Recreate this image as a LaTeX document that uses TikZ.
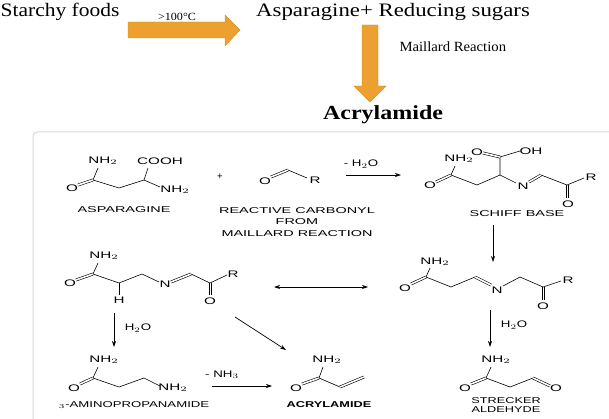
\documentclass[tikz,border=0pt]{standalone}
\usepackage{fontspec}
\setmainfont{Liberation Serif}
\setsansfont{Liberation Sans}
\usetikzlibrary{arrows.meta}
\definecolor{maillard}{RGB}{236,160,48}
\newcommand{\wide}[2][1.6]{\scalebox{#1}[1]{#2}}
\tikzset{
  lbl/.style={font=\sffamily\fontsize{8.5}{9}\selectfont, inner sep=0pt},
  atom/.style={font=\sffamily\fontsize{9.5}{9.5}\selectfont, inner sep=0.5pt},
  bond/.style={line width=0.6pt},
  dbl/.style={line width=0.6pt, double distance=1.6pt},
  rxn/.style={-{Stealth[length=6pt,width=4pt]}, line width=0.7pt},
  big/.style={font=\fontsize{19}{19}\selectfont, inner sep=0pt},
  fat/.style={fill=maillard, draw=maillard!90!black, line width=0.4pt}
}
\begin{document}
\begin{tikzpicture}[x=1pt,y=-1pt]
  \useasboundingbox (0,0) rectangle (609,419);

  % top scheme
  \node[big, anchor=west] (starch) at (0.5,12) {\wide[1.13]{Starchy foods}};
  \node[font=\fontsize{11}{11}\selectfont] (temp) at (177,17) {\wide[1.1]{>100°C}};
  \draw[fat] (128,22) -- (225,22) -- (225,15) -- (240,30) -- (225,46) -- (225,38) -- (128,38) -- cycle;
  \node[big, anchor=west] (sugars) at (256,12) {\wide[1.2]{Asparagine+ Reducing sugars}};
  \draw[fat] (362,25) -- (378,25) -- (378,86) -- (386,86) -- (370,102) -- (354,86) -- (362,86) -- cycle;
  \node[font=\fontsize{14}{14}\selectfont, anchor=west] (maill) at (396,47) {\wide[1.05]{Maillard Reaction}};
  \node[font=\bfseries\fontsize{20}{20}\selectfont, inner sep=0pt] (acryl) at (383,115) {\wide[1.2]{Acrylamide}};

  % reaction box
  \draw[black!15, line width=1pt, rounded corners=4pt] (33,425) -- (33,132) -- (615,132);

  % asparagine
  \draw[dbl] (78,185) -- (93,180);
  \draw[bond] (93,180) -- (119,188) -- (144,180) -- (148,168);
  \draw[bond] (93,180) -- (98,168);
  \draw[bond] (144,180) -- (160,187);
  \node[atom] (o1) at (72,188) {\wide{O}};
  \node[atom] (n1) at (103,161) {\wide{NH$_2$}};
  \node[atom] (cooh) at (160,161) {\wide{COOH}};
  \node[atom] (n2) at (175,190) {\wide{NH$_2$}};
  \node[lbl] (asn) at (124,210) {\wide[1.7]{ASPARAGINE}};
  \node[atom] (plus) at (220,177) {+};

  % reactive carbonyl
  \draw[dbl] (271,177) -- (288,170);
  \draw[bond] (288,170) -- (307,178);
  \node[atom] (o2) at (265,181) {\wide{O}};
  \node[atom] (r1) at (315,180) {\wide{R}};
  \node[lbl] (carb1) at (297,211) {\wide[1.7]{REACTIVE CARBONYL}};
  \node[lbl] (carb2) at (297,222) {\wide[1.7]{FROM}};
  \node[lbl] (carb3) at (297,234) {\wide[1.7]{MAILLARD REACTION}};
  \node[atom] (mh2o) at (361,164) {\wide[1.4]{- H$_2$O}};
  \draw[rxn] (346,175) -- (401,175);

  % schiff base
  \draw[dbl] (436,182) -- (451,175);
  \draw[bond] (451,175) -- (455,166);
  \draw[bond] (451,175) -- (477,185) -- (500,175) -- (500,157);
  \draw[dbl] (500,157) -- (483,153);
  \draw[bond] (500,157) -- (520,151);
  \draw[bond] (500,175) -- (516,183);
  \draw[dbl] (529,182) -- (541,175);
  \draw[bond] (541,175) -- (567,185) -- (584,178);
  \draw[bond] (566,185) -- (566,198) (568.5,185) -- (568.5,198);
  \node[atom] (o3) at (430,185) {\wide{O}};
  \node[atom] (n3) at (459,159) {\wide{NH$_2$}};
  \node[atom] (o4) at (477,152) {\wide{O}};
  \node[atom] (oh) at (531,151) {\wide{OH}};
  \node[atom] (n4) at (523,186) {\wide{N}};
  \node[atom] (r2) at (591,177) {\wide{R}};
  \node[atom] (o5) at (568,204) {\wide{O}};
  \node[lbl] (schiff) at (517,214) {\wide[1.7]{SCHIFF BASE}};
  \draw[rxn] (493,225) -- (493,262);

  % decarboxylated imine (right)
  \draw[dbl] (411,284) -- (426,277);
  \draw[bond] (426,277) -- (430,268);
  \draw[bond] (426,277) -- (451,287) -- (475,277);
  \draw[dbl] (475,277) -- (491,285);
  \draw[bond] (503,286) -- (520,277) -- (543,287) -- (561,281);
  \draw[bond] (542,287) -- (542,300) (544.5,287) -- (544.5,300);
  \node[atom] (o6) at (405,288) {\wide{O}};
  \node[atom] (n5) at (435,262) {\wide{NH$_2$}};
  \node[atom] (n6) at (497,290) {\wide{N}};
  \node[atom] (r3) at (568,280) {\wide{R}};
  \node[atom] (o7) at (543,306) {\wide{O}};

  \draw[{Stealth[length=6pt,width=4pt]}-{Stealth[length=6pt,width=4pt]}, line width=0.7pt] (274,287) -- (368,287);

  % decarboxylated imine (left)
  \draw[dbl] (76,280) -- (93,274);
  \draw[bond] (93,274) -- (98,263);
  \draw[bond] (93,274) -- (119,283) -- (142,274) -- (159,282);
  \draw[bond] (119,283) -- (119,295);
  \draw[dbl] (171,282) -- (191,274);
  \draw[bond] (191,274) -- (210,283) -- (227,275);
  \draw[bond] (209,283) -- (209,295) (211.5,283) -- (211.5,295);
  \node[atom] (o8) at (70,283) {\wide{O}};
  \node[atom] (n7) at (104,256) {\wide{NH$_2$}};
  \node[atom] (h1) at (119,300) {\wide{H}};
  \node[atom] (n8) at (165,284) {\wide{N}};
  \node[atom] (r4) at (233,274) {\wide{R}};
  \node[atom] (o9) at (210,301) {\wide{O}};

  \draw[rxn] (114,313) -- (114,347);
  \node[atom] (h2o1) at (138,328) {\wide[1.4]{H$_2$O}};
  \draw[rxn] (235,317) -- (286,350);
  \draw[rxn] (490,310) -- (490,347);
  \node[atom] (h2o2) at (514,325) {\wide[1.4]{H$_2$O}};

  % 3-aminopropanamide
  \draw[dbl] (80,384) -- (93,378);
  \draw[bond] (93,378) -- (98,367);
  \draw[bond] (93,378) -- (119,387) -- (144,378) -- (160,386);
  \node[atom] (o10) at (74,388) {\wide{O}};
  \node[atom] (n9) at (104,360) {\wide{NH$_2$}};
  \node[atom] (n10) at (173,388) {\wide{NH$_2$}};
  \node[lbl] (apa) at (134,405) {\wide[1.55]{$_3$-AMINOPROPANAMIDE}};
  \draw[rxn] (212,386) -- (272,386);
  \node[atom] (mnh3) at (222,375) {\wide[1.4]{- NH$_3$}};

  % acrylamide
  \draw[dbl] (302,384) -- (319,378);
  \draw[bond] (319,378) -- (323,367);
  \draw[bond] (319,378) -- (340,387);
  \draw[dbl] (340,387) -- (364,377);
  \node[atom] (o11) at (296,388) {\wide{O}};
  \node[atom] (n11) at (327,360) {\wide{NH$_2$}};
  \node[lbl, font=\sffamily\bfseries\fontsize{8.5}{9}\selectfont] (acr) at (329,405) {\wide[1.5]{ACRYLAMIDE}};

  % strecker aldehyde
  \draw[dbl] (471,384) -- (486,378);
  \draw[bond] (486,378) -- (491,367);
  \draw[bond] (486,378) -- (510,387) -- (533,378);
  \draw[dbl] (533,378) -- (550,386);
  \node[atom] (o12) at (465,388) {\wide{O}};
  \node[atom] (n12) at (496,360) {\wide{NH$_2$}};
  \node[atom] (o13) at (556,388) {\wide{O}};
  \node[lbl] (strk1) at (506,401) {\wide[1.5]{STRECKER}};
  \node[lbl] (strk2) at (506,410) {\wide[1.5]{ALDEHYDE}};
\end{tikzpicture}
\end{document}
